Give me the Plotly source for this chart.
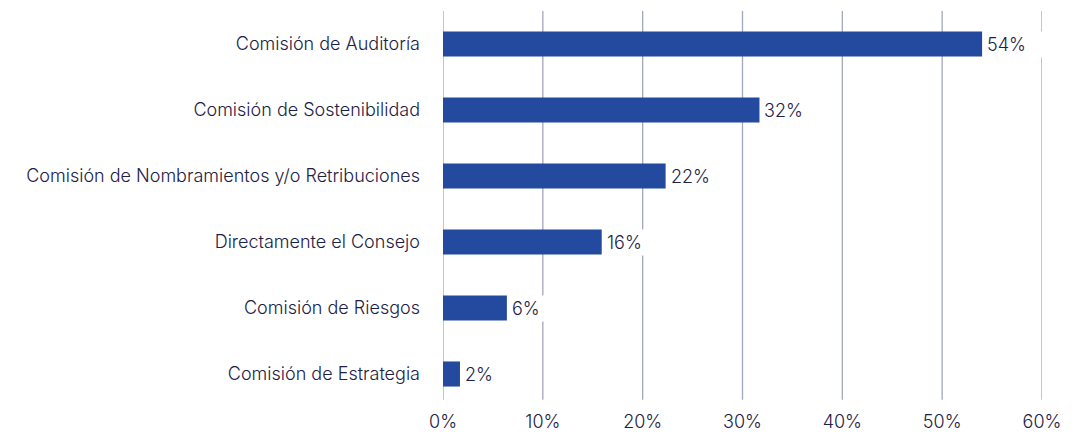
import plotly.graph_objects as go

categories = ["Comisión de Auditoría", "Comisión de Sostenibilidad",
              "Comisión de Nombramientos y/o Retribuciones", "Directamente el Consejo",
              "Comisión de Riesgos", "Comisión de Estrategia"]
values = [54, 31.7, 22.3, 15.9, 6.4, 1.7]
labels = ["54%", "32%", "22%", "16%", "6%", "2%"]
ticks = [0, 10, 20, 30, 40, 50, 60]
tick_text = ["0%", "10%", "20%", "30%", "40%", "50%", "60%"]

TEXT = "#1c2145"
BAR = "#234a9e"
GRID = "#a4a7bb"
FONT = "Inter"
W = 300

fig = go.Figure(go.Bar(
    x=values, y=categories, orientation="h",
    marker=dict(color=BAR, line=dict(width=0)),
    width=0.38, hoverinfo="skip",
))

shapes = [dict(type="line", xref="x", yref="paper", x0=t, x1=t, y0=0.018, y1=1,
               line=dict(color=GRID, width=1.3), layer="below") for t in ticks]

annotations = [dict(x=v, y=c, xref="x", yref="y", text=l, showarrow=False,
                    xanchor="left", yanchor="middle", xshift=2,
                    width=54, align="left",
                    bgcolor="white", borderpad=2,
                    font=dict(family=FONT, size=18, color=TEXT, weight=W))
               for v, c, l in zip(values, categories, labels)]

fig.update_layout(
    width=1072, height=434,
    margin=dict(l=443, r=30, t=11, b=27, autoexpand=False),
    paper_bgcolor="white", plot_bgcolor="white",
    showlegend=False,
    shapes=shapes, annotations=annotations,
    font=dict(family=FONT, size=18, color=TEXT, weight=W),
    xaxis=dict(range=[0, 60], tickvals=ticks, ticktext=tick_text,
               showgrid=False, zeroline=False, showline=False, automargin=False,
               ticks="", ticklabelstandoff=2,
               tickfont=dict(family=FONT, size=18, color=TEXT, weight=W)),
    yaxis=dict(categoryorder="array", categoryarray=categories[::-1],
               showgrid=False, zeroline=False, showline=False, automargin=False,
               ticks="", ticklabelstandoff=22,
               tickfont=dict(family=FONT, size=18, color=TEXT, weight=W)),
    bargap=0.62,
)

fig.write_html("out.html", config={"displayModeBar": False},
               post_script="document.body.style.margin='0';document.body.style.overflow='hidden';")
